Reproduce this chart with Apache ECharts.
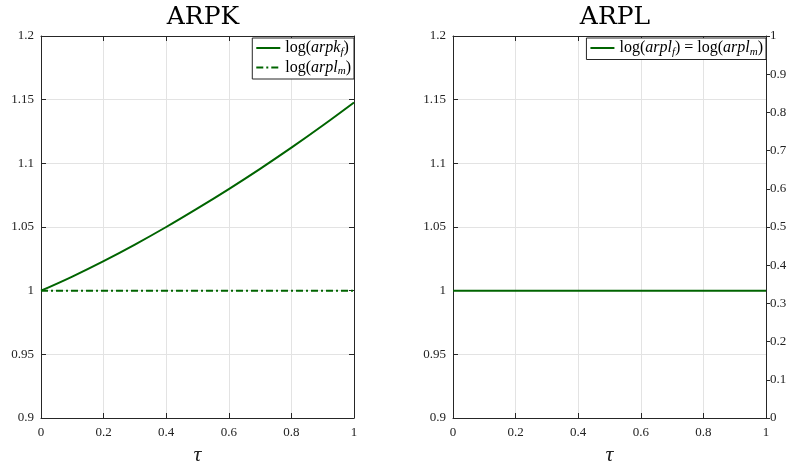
<!DOCTYPE html>
<html>
<head>
<meta charset="utf-8">
<script src="https://cdn.jsdelivr.net/npm/echarts@6/dist/echarts.min.js"></script>
<style>
  html, body { margin: 0; padding: 0; background: #fff; }
  #main { width: 787px; height: 468px; }
</style>
</head>
<body>
<div id="main"></div>
<script>
// tau grid and series values
const tau = [0, 0.1, 0.2, 0.3, 0.4, 0.5, 0.6, 0.7, 0.8, 0.9, 1];
const arpkF = [1, 1.0111, 1.0232, 1.0362, 1.0500, 1.0646, 1.0798, 1.0957, 1.1123, 1.1297, 1.1478];
const arplM = [1, 1, 1, 1, 1, 1, 1, 1, 1, 1, 1];
const arplF = [1, 1, 1, 1, 1, 1, 1, 1, 1, 1, 1];

const green = "#006400";
const serif = "Liberation Serif";
const pairs = ys => tau.map((t, i) => [t, ys[i]]);

// legend labels, math-style
const legendText = {
  arpkf: "{n|log(}{i|arpk}{s|f}{n|)}",
  arplm: "{n|log(}{i|arpl}{s|m}{n|)}",
  arpleq: "{n|log(}{i|arpl}{s|f}{n|) = log(}{i|arpl}{s|m}{n|)}",
};
const rich = {
  n: { fontFamily: serif, fontSize: 16, color: "#000" },
  i: { fontFamily: serif, fontSize: 16, fontStyle: "italic", color: "#000" },
  s: { fontFamily: serif, fontSize: 11, fontStyle: "italic", color: "#000", padding: [8, 0, 0, 0] },
};

const axisLabel = { fontFamily: serif, fontSize: 13, color: "#222" };
const gridLine = { show: true, lineStyle: { color: "#e3e3e3", width: 1 } };
const axisLine = { show: true, onZero: false, lineStyle: { color: "#262626", width: 1 } };

function bottomX(gi) {
  return {
    type: "value", gridIndex: gi, min: 0, max: 1, interval: 0.2,
    axisLine, axisTick: { inside: true, length: 5, lineStyle: { color: "#262626" } },
    axisLabel: { ...axisLabel, margin: 8 },
    splitLine: gridLine,
    name: "τ", nameLocation: "middle", nameGap: 26,
    nameTextStyle: { fontFamily: serif, fontSize: 22, fontStyle: "italic", color: "#222" },
  };
}
function topX(gi) {
  return {
    type: "value", gridIndex: gi, position: "top", min: 0, max: 1, interval: 0.2,
    axisLine, axisTick: { inside: true, length: 5, lineStyle: { color: "#262626" } },
    axisLabel: { show: false }, splitLine: { show: false },
  };
}
function leftY(gi) {
  return {
    type: "value", gridIndex: gi, min: 0.9, max: 1.2, interval: 0.05,
    axisLine, axisTick: { show: true, inside: true, length: 5, lineStyle: { color: "#262626" } },
    axisLabel: { ...axisLabel, margin: 7 },
    splitLine: gridLine,
  };
}
const legendBase = {
  orient: "vertical", top: 38,
  backgroundColor: "#fff", borderColor: "#262626", borderWidth: 1, borderRadius: 0,
  padding: [2, 3, 2, 3], itemGap: 2, itemWidth: 24, itemHeight: 14,
  itemStyle: { opacity: 0 },
  formatter: n => legendText[n], textStyle: { rich },
};

const option = {
  backgroundColor: "#fff",
  animation: false,
  title: [
    { text: "ARPK", left: 198, top: 0, textAlign: "center",
      textStyle: { fontFamily: "DejaVu Serif", fontSize: 25, fontWeight: "normal", color: "#000" } },
    { text: "ARPL", left: 610, top: 0, textAlign: "center",
      textStyle: { fontFamily: "DejaVu Serif", fontSize: 25, fontWeight: "normal", color: "#000" } },
  ],
  grid: [
    { left: 41, right: 433, top: 36, bottom: 50, outerBoundsMode: "none", containLabel: false },
    { left: 453, right: 21, top: 36, bottom: 50, outerBoundsMode: "none", containLabel: false },
  ],
  legend: [
    { ...legendBase, data: ["arpkf", "arplm"], right: 433 },
    { ...legendBase, data: ["arpleq"], right: 21 },
  ],
  xAxis: [bottomX(0), topX(0), bottomX(1), topX(1)],
  yAxis: [
    leftY(0),
    {
      type: "value", gridIndex: 0, position: "right", min: 0.9, max: 1.2, interval: 0.05,
      axisLine, axisTick: { show: true, inside: true, length: 5, lineStyle: { color: "#262626" } },
      axisLabel: { show: false }, splitLine: { show: false },
    },
    leftY(1),
    {
      type: "value", gridIndex: 1, position: "right", min: 0, max: 1, interval: 0.1,
      axisLine, axisTick: { show: true, length: 4, lineStyle: { color: "#262626" } },
      axisLabel: { ...axisLabel, margin: 4 }, splitLine: { show: false },
    },
  ],
  series: [
    { name: "arpkf", type: "line", xAxisIndex: 0, yAxisIndex: 0, data: pairs(arpkF),
      symbol: "none", smooth: 0.4, lineStyle: { color: green, width: 2 }, itemStyle: { color: green } },
    { name: "arplm", type: "line", xAxisIndex: 0, yAxisIndex: 0, data: pairs(arplM),
      symbol: "none", lineStyle: { color: green, width: 2, type: [7, 3, 2, 3] }, itemStyle: { color: green } },
    { name: "arpleq", type: "line", xAxisIndex: 2, yAxisIndex: 2, data: pairs(arplF),
      symbol: "none", lineStyle: { color: green, width: 2 }, itemStyle: { color: green } },
  ],
};

const myChart = echarts.init(document.getElementById("main"));
myChart.setOption(option);
</script>
</body>
</html>
